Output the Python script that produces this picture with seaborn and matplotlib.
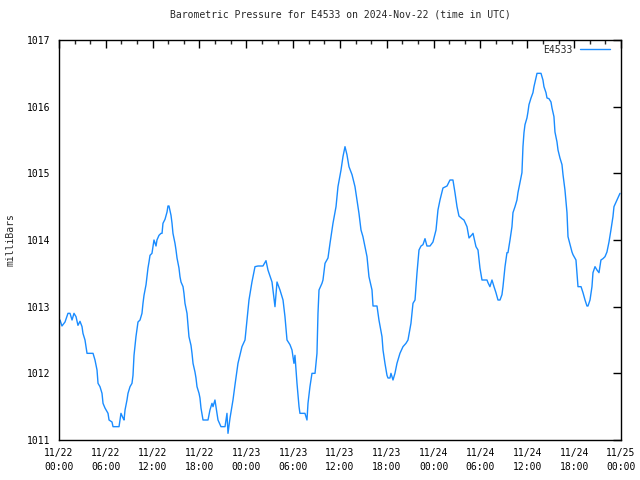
import numpy as np
import pandas as pd
import matplotlib
matplotlib.use("Agg")
import matplotlib.pyplot as plt
import matplotlib.dates as mdates
from matplotlib.ticker import MultipleLocator
import seaborn as sns

# Hours since 2024-11-22 00:00 UTC
hours = [0.13, 0.38, 0.77, 1.15, 1.41, 1.67, 1.92, 2.18, 2.43, 2.69, 2.95, 3.07, 3.33, 3.59, 4.36,
         4.61, 4.87, 5.00, 5.25, 5.51, 5.64, 5.89, 6.28, 6.41, 6.79, 6.92, 7.69, 7.94, 8.20, 8.33,
         8.46, 8.71, 8.84, 9.10, 9.35, 9.48, 9.61, 9.86, 10.12, 10.38, 10.63, 10.76, 10.89, 11.15,
         11.27, 11.40, 11.53, 11.66, 11.91, 12.04, 12.17, 12.43, 12.55, 12.81, 13.07, 13.20, 13.32,
         13.58, 13.84, 13.96, 14.09, 14.35, 14.48, 14.60, 14.86, 14.99, 15.12, 15.37, 15.50, 15.63,
         15.89, 16.01, 16.14, 16.40, 16.53, 16.65, 16.91, 17.04, 17.17, 17.42, 17.55, 17.68, 17.94,
         18.06, 18.19, 18.45, 19.09, 19.34, 19.60, 19.73, 19.98, 20.11, 20.37, 20.75, 21.27, 21.52,
         21.65, 21.91, 22.29, 22.55, 22.93, 23.44, 23.83, 24.08, 24.34, 24.72, 25.11, 25.49, 26.13,
         26.52, 26.77, 27.29, 27.67, 27.93, 28.31, 28.70, 28.95, 29.21, 29.59, 29.85, 30.10, 30.23,
         30.49, 30.75, 30.87, 31.51, 31.77, 31.90, 32.15, 32.41, 32.80, 33.05, 33.18, 33.31, 33.69,
         33.82, 34.08, 34.46, 34.72, 35.10, 35.49, 35.74, 36.13, 36.38, 36.64, 36.89, 37.15, 37.54,
         37.92, 38.18, 38.43, 38.69, 38.94, 39.20, 39.46, 39.71, 40.10, 40.23, 40.74, 40.99, 41.38,
         41.51, 41.76, 42.02, 42.15, 42.40, 42.53, 42.79, 43.04, 43.30, 43.68, 44.07, 44.45, 44.71,
         45.09, 45.35, 45.61, 45.86, 46.12, 46.38, 46.63, 46.89, 47.14, 47.53, 47.91, 48.30, 48.55,
         48.81, 49.19, 49.71, 50.09, 50.47, 50.73, 50.99, 51.24, 51.63, 51.88, 52.27, 52.53, 52.91,
         53.04, 53.42, 53.68, 53.93, 54.19, 54.83, 54.96, 55.21, 55.47, 55.73, 55.98, 56.24, 56.50,
         56.75, 56.88, 57.14, 57.39, 57.52, 57.78, 58.03, 58.16, 58.42, 58.67, 58.80, 59.06, 59.31,
         59.44, 59.57, 59.70, 59.95, 60.08, 60.21, 60.47, 60.72, 60.85, 61.11, 61.24, 61.75, 62.00,
         62.13, 62.39, 62.52, 62.77, 63.03, 63.16, 63.41, 63.54, 63.80, 63.93, 64.18, 64.44, 64.57,
         64.82, 65.08, 65.21, 65.47, 65.72, 65.85, 66.23, 66.36, 66.49, 66.88, 67.13, 67.39, 67.64,
         67.77, 68.03, 68.28, 68.41, 68.67, 68.92, 69.18, 69.43, 69.69, 69.95, 70.20, 70.46, 70.71,
         70.97, 71.10, 71.48, 71.87]

pressure = [1012.80, 1012.71, 1012.77, 1012.90, 1012.90, 1012.80, 1012.90, 1012.85, 1012.72, 1012.78,
            1012.70, 1012.60, 1012.50, 1012.30, 1012.30, 1012.20, 1012.05, 1011.85, 1011.80, 1011.70,
            1011.55, 1011.48, 1011.40, 1011.30, 1011.27, 1011.20, 1011.20, 1011.40, 1011.33, 1011.30,
            1011.45, 1011.60, 1011.70, 1011.80, 1011.85, 1011.97, 1012.27, 1012.55, 1012.77, 1012.80,
            1012.90, 1013.05, 1013.17, 1013.33, 1013.45, 1013.58, 1013.67, 1013.77, 1013.80, 1013.90,
            1014.00, 1013.91, 1014.00, 1014.07, 1014.10, 1014.10, 1014.25, 1014.31, 1014.42, 1014.51,
            1014.51, 1014.37, 1014.25, 1014.10, 1013.95, 1013.85, 1013.73, 1013.58, 1013.45, 1013.37,
            1013.30, 1013.20, 1013.05, 1012.90, 1012.72, 1012.55, 1012.42, 1012.30, 1012.15, 1012.02,
            1011.93, 1011.80, 1011.70, 1011.63, 1011.48, 1011.30, 1011.30, 1011.45, 1011.55, 1011.50,
            1011.60, 1011.50, 1011.30, 1011.20, 1011.20, 1011.40, 1011.10, 1011.33, 1011.60, 1011.83,
            1012.15, 1012.40, 1012.50, 1012.80, 1013.10, 1013.37, 1013.60, 1013.61, 1013.61, 1013.69,
            1013.55, 1013.37, 1013.00, 1013.37, 1013.25, 1013.10, 1012.85, 1012.50, 1012.43, 1012.35,
            1012.15, 1012.27, 1011.85, 1011.50, 1011.40, 1011.40, 1011.30, 1011.55, 1011.80, 1012.00,
            1012.00, 1012.30, 1012.90, 1013.25, 1013.35, 1013.40, 1013.65, 1013.73, 1013.95, 1014.25,
            1014.50, 1014.80, 1015.05, 1015.25, 1015.40, 1015.28, 1015.10, 1014.98, 1014.80, 1014.60,
            1014.40, 1014.15, 1014.05, 1013.90, 1013.75, 1013.45, 1013.25, 1013.01, 1013.01, 1012.80,
            1012.55, 1012.35, 1012.15, 1011.97, 1011.93, 1011.93, 1012.00, 1011.90, 1012.00, 1012.15,
            1012.30, 1012.40, 1012.45, 1012.50, 1012.75, 1013.05, 1013.10, 1013.50, 1013.85, 1013.91,
            1013.93, 1014.02, 1013.91, 1013.91, 1013.97, 1014.15, 1014.45, 1014.60, 1014.78, 1014.81,
            1014.90, 1014.90, 1014.71, 1014.50, 1014.36, 1014.32, 1014.30, 1014.20, 1014.03, 1014.08,
            1014.10, 1013.90, 1013.85, 1013.58, 1013.40, 1013.40, 1013.36, 1013.30, 1013.40, 1013.30,
            1013.21, 1013.10, 1013.10, 1013.18, 1013.30, 1013.60, 1013.81, 1013.81, 1014.00, 1014.20,
            1014.41, 1014.50, 1014.60, 1014.71, 1014.86, 1015.01, 1015.40, 1015.61, 1015.73, 1015.83,
            1015.92, 1016.03, 1016.13, 1016.21, 1016.30, 1016.43, 1016.50, 1016.50, 1016.40, 1016.30,
            1016.21, 1016.13, 1016.12, 1016.07, 1015.98, 1015.85, 1015.62, 1015.47, 1015.35, 1015.23,
            1015.13, 1014.98, 1014.75, 1014.41, 1014.05, 1013.93, 1013.82, 1013.78, 1013.70, 1013.51,
            1013.30, 1013.30, 1013.21, 1013.10, 1013.01, 1013.01, 1013.10, 1013.30, 1013.51, 1013.60,
            1013.55, 1013.51, 1013.70, 1013.72, 1013.75, 1013.82, 1013.97, 1014.15, 1014.35, 1014.50,
            1014.60, 1014.70]

station = "E4533"
title = "Barometric Pressure for E4533 on 2024-Nov-22 (time in UTC)"
ylabel = "milliBars"
start = pd.Timestamp("2024-11-22 00:00")
end = pd.Timestamp("2024-11-25 00:00")

df = pd.DataFrame({
    "time": start + pd.to_timedelta(hours, unit="h"),
    "pressure": pressure,
    "station": station,
})

sns.set_style("white")
plt.rcParams["font.family"] = ["DejaVu Sans Mono", "DejaVu Sans"]
plt.rcParams["font.size"] = 7

fig = plt.figure(figsize=(6.4, 4.8), dpi=100)
ax = fig.add_axes([59 / 640, 40 / 480, 562 / 640, 400 / 480])

sns.lineplot(data=df, x="time", y="pressure", hue="station", palette=["#1a8cff"],
             linewidth=1.0, ax=ax)

ax.set_xlim(start, end)
ax.set_ylim(1011, 1017)
ax.yaxis.set_major_locator(MultipleLocator(1))
ax.xaxis.set_major_locator(mdates.HourLocator(byhour=[0, 6, 12, 18]))
ax.xaxis.set_minor_locator(mdates.HourLocator(byhour=range(0, 24, 2)))
ax.xaxis.set_major_formatter(mdates.DateFormatter("%m/%d\n%H:%M"))

for s in ax.spines.values():
    s.set_color("black")
    s.set_linewidth(1.0)

ax.tick_params(axis="both", which="major", direction="in", length=6, width=1,
               top=True, right=True, labelsize=7, colors="black")
ax.tick_params(axis="both", which="minor", direction="in", length=3, width=1,
               top=True, right=True)
ax.tick_params(axis="x", which="major", pad=6)
ax.tick_params(axis="y", which="major", pad=6)
for lbl in ax.get_xticklabels():
    lbl.set_linespacing(1.4)

ax.set_xlabel("")
ax.set_ylabel(ylabel, fontsize=7)
ax.yaxis.set_label_coords(-0.078, 0.5)
ax.set_title(title, fontsize=7, pad=16)

leg = ax.legend(loc="upper right", frameon=False, markerfirst=False, fontsize=7,
                handlelength=3.0, bbox_to_anchor=(0.99, 1.003), borderaxespad=0.2,
                title=None)

fig.savefig("out.png", dpi=100)
